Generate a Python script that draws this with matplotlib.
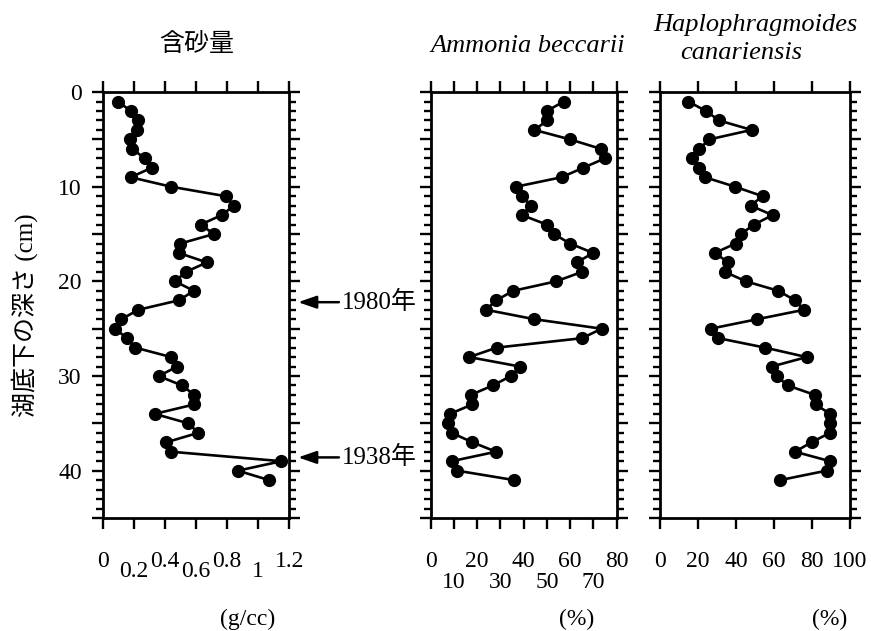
import matplotlib.pyplot as plt
from matplotlib.ticker import MultipleLocator, FuncFormatter

# 深さ (cm)
depth = [1, 2, 3, 4, 5, 6, 7, 8, 9, 10, 11, 12, 13, 14, 15, 16, 17, 18, 19, 20,
         21, 22, 23, 24, 25, 26, 27, 28, 29, 30, 31, 32, 33, 34, 35, 36, 37, 38,
         39, 40, 41]
# 含砂量 (g/cc)
sand = [0.10, 0.18, 0.23, 0.22, 0.175, 0.19, 0.27, 0.315, 0.18, 0.44, 0.79,
        0.845, 0.765, 0.63, 0.715, 0.50, 0.49, 0.67, 0.535, 0.465, 0.587, 0.49,
        0.23, 0.12, 0.08, 0.155, 0.21, 0.44, 0.48, 0.36, 0.51, 0.59, 0.59,
        0.335, 0.55, 0.615, 0.41, 0.44, 1.15, 0.87, 1.07]
# Ammonia beccarii (%)
ammonia = [57.3, 49.9, 50.2, 44.6, 59.9, 73.2, 75.0, 65.6, 56.3, 36.7, 39.3,
           43.1, 39.3, 49.9, 53.0, 59.9, 69.9, 62.8, 65.1, 53.9, 35.5, 28.2,
           23.8, 44.6, 73.5, 65.2, 28.4, 16.6, 38.4, 34.5, 26.7, 17.2, 17.9,
           8.3, 7.6, 9.0, 17.9, 28.1, 9.0, 11.4, 36.0]
# Haplophragmoides canariensis (%)
haplo = [14.9, 24.2, 31.1, 48.2, 26.0, 20.7, 17.0, 20.7, 23.7, 39.5, 54.0,
         47.7, 59.3, 49.5, 42.6, 39.8, 28.9, 35.9, 34.2, 45.3, 62.3, 71.1,
         75.9, 51.2, 26.7, 30.7, 55.3, 77.2, 58.8, 61.4, 67.2, 81.6, 81.9,
         89.5, 89.5, 89.5, 79.8, 71.1, 89.5, 87.7, 63.2]

sand_ticks_top = [0, 0.4, 0.8, 1.2]
sand_labels_top = ['0', '0.4', '0.8', '1.2']
sand_ticks_low = [0.2, 0.6, 1.0]
sand_labels_low = ['0.2', '0.6', '1']
amm_ticks_top = [0, 20, 40, 60, 80]
amm_ticks_low = [10, 30, 50, 70]
hap_ticks = [0, 20, 40, 60, 80, 100]

# 年代 (深さ, ラベル)
event_depth = [22.2, 38.6]
event_label = ['1980年', '1938年']

plt.rcParams['font.family'] = ['Liberation Serif', 'Noto Sans CJK JP']

fig = plt.figure(figsize=(8.71, 6.31), dpi=100)
ax1 = fig.add_axes([0.1179, 0.1791, 0.2142, 0.675])
ax2 = fig.add_axes([0.4945, 0.1791, 0.2135, 0.675])
ax3 = fig.add_axes([0.7577, 0.1791, 0.2181, 0.675])


def style(ax, xlim):
    ax.set_xlim(*xlim)
    ax.set_ylim(45, 0)
    for s in ax.spines.values():
        s.set_linewidth(2.0)
    ax.yaxis.set_major_locator(MultipleLocator(5))
    ax.yaxis.set_minor_locator(MultipleLocator(1))
    ax.yaxis.set_major_formatter(
        FuncFormatter(lambda v, p: f'{v:.0f}' if v % 10 == 0 else ''))
    ax.tick_params(axis='y', which='both', direction='out', left=True,
                   right=True, width=1.7, labelsize=17, pad=7)
    ax.tick_params(axis='y', which='major', length=8)
    ax.tick_params(axis='y', which='minor', length=5)
    ax.tick_params(axis='x', which='both', direction='out', top=True,
                   bottom=True, length=8, width=1.7, labelsize=17, pad=16)


def draw(ax, values):
    ax.plot(values, depth, '-o', color='black', lw=1.9, ms=8.5)


# 含砂量
style(ax1, (0, 1.2))
draw(ax1, sand)
ax1.set_xticks(sand_ticks_top, sand_labels_top)
ax1.set_xticks(sand_ticks_low, sand_labels_low, minor=True)
ax1.tick_params(axis='x', which='minor', pad=23)
ax1.text(0.505, 1.112, '含砂量', transform=ax1.transAxes, ha='center',
         va='center', fontsize=18)
ax1.text(0.779, -0.239, '(g/cc)', transform=ax1.transAxes, ha='center',
         va='center', fontsize=17)
ax1.text(-0.416, 0.477, '湖底下の深さ (cm)', transform=ax1.transAxes,
         rotation=90, ha='center', va='center', fontsize=18)

for d, lab in zip(event_depth, event_label):
    ax1.annotate('', xy=(1.047, d), xytext=(1.266, d),
                 xycoords=ax1.get_yaxis_transform(),
                 textcoords=ax1.get_yaxis_transform(),
                 arrowprops=dict(arrowstyle='-|>,head_length=1.1,head_width=0.38',
                                 color='black', lw=1.8, shrinkA=0, shrinkB=0))
    ax1.text(1.283, d, lab, transform=ax1.get_yaxis_transform(), ha='left',
             va='center', fontsize=18)

# Ammonia beccarii
style(ax2, (0, 80))
draw(ax2, ammonia)
ax2.set_xticks(amm_ticks_top, [str(t) for t in amm_ticks_top])
ax2.set_xticks(amm_ticks_low, [str(t) for t in amm_ticks_low], minor=True)
ax2.tick_params(axis='x', which='minor', pad=31)
ax2.tick_params(axis='y', labelleft=False)
ax2.text(0.523, 1.108, 'Ammonia beccarii', transform=ax2.transAxes,
         ha='center', va='center', fontsize=19, style='italic')
ax2.text(0.787, -0.239, '(%)', transform=ax2.transAxes, ha='center',
         va='center', fontsize=17)

# Haplophragmoides canariensis
style(ax3, (0, 100))
draw(ax3, haplo)
ax3.set_xticks(hap_ticks, [str(t) for t in hap_ticks])
ax3.tick_params(axis='y', labelleft=False)
ax3.text(0.5, 1.158, 'Haplophragmoides', transform=ax3.transAxes,
         ha='center', va='center', fontsize=19, style='italic')
ax3.text(0.426, 1.092, 'canariensis', transform=ax3.transAxes,
         ha='center', va='center', fontsize=19, style='italic')
ax3.text(0.895, -0.239, '(%)', transform=ax3.transAxes, ha='center',
         va='center', fontsize=17)

fig.savefig('out.png', dpi=100)
